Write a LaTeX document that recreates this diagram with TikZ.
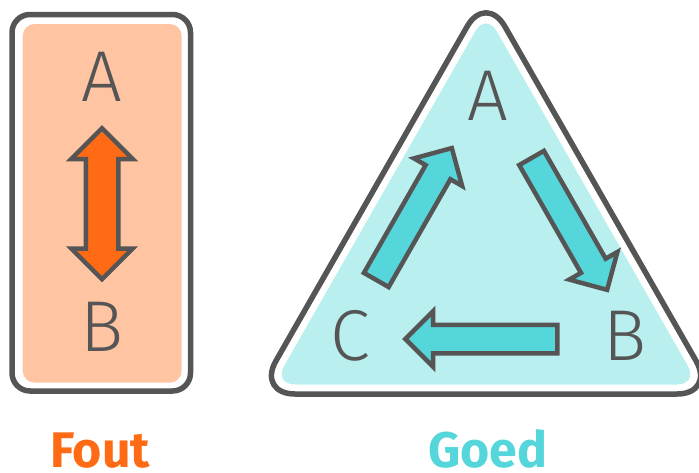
\documentclass[tikz,border=0pt]{standalone}
\usepackage{fontspec}
\setmainfont{Fira Sans}
\newfontfamily\letterfont{Fira Sans Light}
\usetikzlibrary{positioning, shapes.arrows}

\definecolor{rim}{HTML}{555555}
\definecolor{salmon}{HTML}{FFC4A2}
\definecolor{fout}{HTML}{FF6A14}
\definecolor{ice}{HTML}{BAEFEF}
\definecolor{goed}{HTML}{55D6DA}

\tikzset{
  frame/.style={draw=rim, line width=5.5pt},
  letter/.style={text=rim, font=\letterfont\fontsize{72}{72}\selectfont, inner sep=0pt},
  flow/.style={single arrow, draw=rim, fill=goed, line width=4.5pt,
    minimum height=152pt, inner xsep=0pt, inner ysep=12pt,
    single arrow head extend=13.5pt, single arrow tip angle=90,
    single arrow head indent=0pt, sloped, allow upside down},
  both/.style={double arrow, draw=rim, fill=fout, line width=4.5pt,
    minimum height=151pt, inner xsep=0pt, inner ysep=14pt,
    double arrow head extend=14.5pt, double arrow tip angle=90,
    double arrow head indent=0pt, sloped, allow upside down},
  verdict/.style={font=\bfseries\fontsize{50}{50}\selectfont, anchor=base}
}

\begin{document}
\begin{tikzpicture}[x=1pt, y=-1pt]
  \useasboundingbox (0,0) rectangle (699,472);

  % fout: A <-> B
  \draw[frame, rounded corners=18pt] (12,14.5) rectangle (190.5,391);
  \fill[salmon, rounded corners=12pt] (22.7,24) rectangle (181.7,382.7);
  \node[letter] (lA) at (102,77) {A};
  \node[letter, on grid, below=249.5pt of lA] (lB) {B};
  \path (lA.center) -- node[both, xshift=2pt] (ab) {} (lB.center);

  % goed: A -> B -> C -> A
  \draw[frame, rounded corners=38pt] (486,394) -- (715,394) -- (486,-6.5) -- (257,394) -- cycle;
  \fill[ice, rounded corners=21.6pt] (486,384.5) -- (698.5,384.5) -- (486,12.5) -- (273.5,384.5) -- cycle;
  \node[letter] (C) at (350.5,336) {C};
  \node[letter, on grid, right=275pt of C] (B) {B};
  \node[letter] (A) at (488,96) {A};
  \path (C.center) -- node[flow, xshift=-8pt, yshift=5.5pt] (ca) {} (A.center);
  \path (A.center) -- node[flow, xshift=6pt, yshift=7pt] (ab2) {} (B.center);
  \path (B.center) -- node[flow, xshift=-0.5pt, yshift=3pt] (bc) {} (C.center);

  \node[verdict, text=fout] (fout) at (100,467) {Fout};
  \node[verdict, text=goed] (goed) at (488,467) {Goed};
\end{tikzpicture}
\end{document}
